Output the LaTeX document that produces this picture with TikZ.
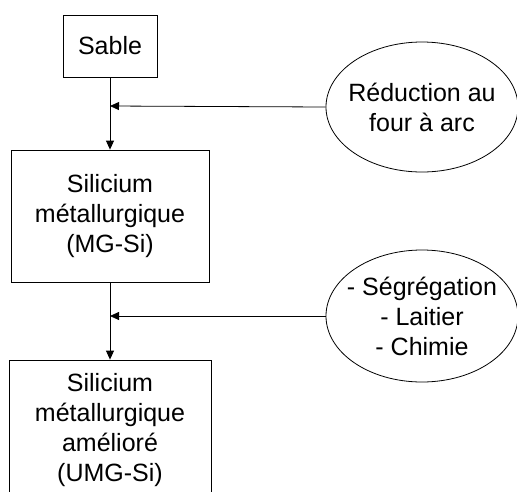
\documentclass[tikz,border=0pt]{standalone}
\usepackage{fontspec}
\setmainfont{Liberation Sans}
\usetikzlibrary{arrows.meta,shapes.geometric}

\tikzset{
  etape/.style={draw, thick, align=center, inner sep=0pt},
  procede/.style={draw, thick, ellipse, inner sep=0pt},
  fleche/.style={-{Triangle[length=9pt,width=8pt]}, thick}
}

\begin{document}
\begin{tikzpicture}[x=1pt, y=-1pt, font=\fontsize{25}{30}\selectfont]
\clip (0,0) rectangle (517,491);

% produits
\node[etape, minimum width=94pt, minimum height=62pt] (sable) at (110,46) {Sable};
\node[etape, minimum width=198pt, minimum height=132pt] (mgsi) at (110,216) {Silicium\\métallurgique\\(MG-Si)};
\node[etape, minimum width=202pt, minimum height=140pt] (umgsi) at (110,430) {Silicium\\métallurgique\\amélioré\\(UMG-Si)};

% procedes
\node[procede, minimum width=192pt, minimum height=130pt,
  label={[align=center]center:Réduction au\\four à arc}] (four) at (422,107) {};
\node[procede, minimum width=192pt, minimum height=132pt,
  label={[align=center]center:- Ségrégation\\- Laitier\\- Chimie}] (raffin) at (422,316) {};

\coordinate (j1) at (110,106);
\coordinate (j2) at (110,316);

\draw[fleche] (sable) -- (mgsi);
\draw[fleche] (mgsi) -- (umgsi);
\draw[fleche] (four.west) -- (j1);
\draw[fleche] (raffin.west) -- (j2);
\end{tikzpicture}
\end{document}
